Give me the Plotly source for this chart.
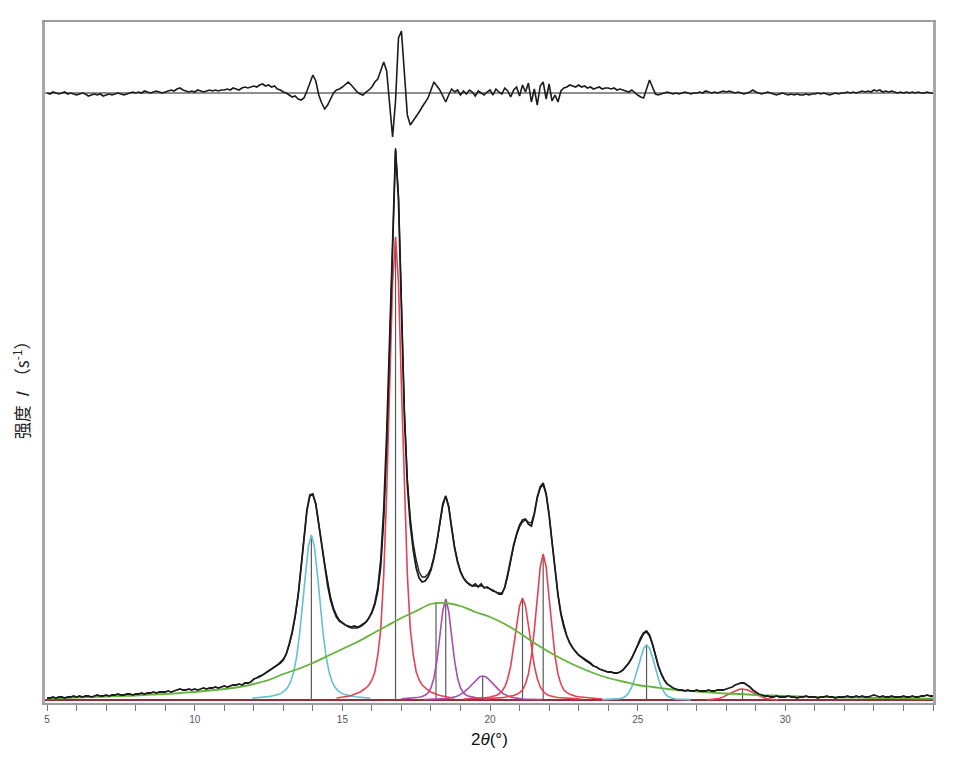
import numpy as np
import plotly.graph_objects as go

# ---------------- data (intensities in arbitrary units) ----------------
STEP = 0.1

obs_start = 5.0
obs_y = [
    2, 2, 3, 2, 3, 3, 2, 3, 3, 4,
    3, 4, 3, 4, 4, 3, 4, 5, 4, 4,
    5, 4, 5, 5, 6, 5, 5, 6, 6, 5,
    6, 6, 7, 6, 7, 7, 8, 7, 8, 8,
    8, 9, 8, 9, 10, 11, 10, 10, 11, 10,
    11, 10, 11, 12, 11, 12, 12, 13, 12, 13,
    14, 13, 14, 15, 15, 16, 15, 17, 17, 18,
    21, 22, 24, 25, 27, 29, 31, 33, 35, 37,
    40, 46, 56, 68, 84, 104, 132, 162, 190, 205,
    206, 196, 176, 152, 132, 115, 100, 90, 83, 79,
    77, 75, 74, 73, 74, 73, 74, 76, 78, 82,
    88, 97, 112, 140, 190, 265, 360, 470, 550, 500,
    380, 285, 215, 175, 150, 132, 122, 118, 119, 123,
    130, 142, 158, 178, 196, 204, 193, 172, 152, 138,
    128, 122, 118, 116, 114, 116, 113, 116, 112, 113,
    111, 109, 108, 106, 106, 113, 126, 142, 155, 166,
    175, 180, 181, 176, 174, 186, 203, 213, 217, 206,
    185, 158, 130, 105, 86, 73, 64, 57, 52, 48,
    45, 43, 41, 39, 37, 34, 33, 31, 30, 29,
    28, 28, 27, 27, 28, 30, 33, 37, 42, 48,
    55, 62, 67, 69, 65, 56, 45, 34, 26, 20,
    16, 14, 12, 11, 10, 10, 9, 10, 9, 9,
    10, 9, 9, 9, 10, 9, 9, 10, 10, 10,
    11, 12, 13, 15, 16, 17, 17, 15, 13, 10,
    8, 6, 5, 4, 4, 3, 3, 4, 3, 3,
    3, 4, 3, 3, 2, 3, 3, 4, 3, 3,
    3, 2, 3, 3, 4, 3, 3, 2, 3, 3,
    3, 4, 3, 3, 4, 3, 4, 3, 3, 4,
    5, 4, 3, 4, 3, 3, 4, 3, 3, 3,
    4, 3, 3, 4, 3, 3, 4, 4, 5, 4,
    4,
]

calc_start = 12.0
calc_y = [
    21, 22, 23, 25, 27, 29, 31, 33, 35, 38,
    41, 46, 55, 67, 83, 104, 132, 163, 190, 204,
    205, 196, 178, 156, 136, 118, 103, 92, 85, 80,
    77, 75, 73, 72, 72, 72, 73, 75, 78, 82,
    87, 95, 108, 132, 178, 252, 355, 468, 552, 505,
    385, 290, 222, 182, 157, 140, 128, 123, 123, 126,
    132, 143, 158, 176, 194, 204, 194, 173, 153, 139,
    129, 122, 118, 115, 114, 114, 114, 114, 113, 112,
    111, 110, 108, 107, 107, 112, 124, 140, 154, 165,
    173, 178, 180, 178, 177, 187, 202, 212, 215, 206,
    186, 158, 130, 106, 87, 74, 64, 57, 52, 48,
    45, 42, 40, 38, 36, 34, 33, 31, 30, 29,
    28, 28, 27, 27, 28, 30, 33, 37, 42, 48,
    55, 61, 66, 68, 64, 56, 45, 34, 26, 20,
    16,
]

resid_start = 5.0
resid_y = [
    0, -1, 1, 0, -1, 0, 1, -1, 0, -1,
    -2, -1, 0, -1, -3, -2, -1, -2, -1, -3,
    -2, -1, -2, -1, 0, -1, -2, -1, 0, 1,
    0, 1, 0, 2, 1, 0, 1, 2, 1, 0,
    1, 2, 3, 2, 4, 5, 3, 2, 1, 2,
    1, 3, 2, 1, 2, 3, 2, 3, 2, 3,
    3, 4, 3, 5, 4, 3, 5, 6, 5, 6,
    7, 6, 8, 9, 7, 8, 6, 7, 4, 3,
    1, 0, -2, -4, -3, -6, -7, -5, 2, 10,
    18, 12, -2, -10, -16, -12, -6, 0, 3, 4,
    6, 9, 11, 8, 4, 1, -1, -2, 1, 3,
    6, 11, 14, 22, 31, 22, -15, -44, -8, 55,
    62, 20, -22, -32, -28, -23, -19, -14, -10, -5,
    3, 11, 7, 3, -3, -9, -2, 4, 1, 3,
    -2, 2, -1, 3, 1, -3, 2, 0, -2, 1,
    3, -2, 4, 1, -1, 5, 2, -4, 3, 6,
    -3, 8, 1, 10, -9, 4, -12, 7, 11, -6,
    9, -8, -2, -9, 2, 5, 6, 8, 7, 6,
    8, 6, 7, 5, 6, 4, 5, 6, 4, 5,
    5, 4, 5, 3, 4, 3, 2, 1, 3, 0,
    -2, -4, -5, 4, 13, 6, -1, -2, -1, 0,
    1, 0, -1, 0, -1, 0, 1, 0, -1, 0,
    0, 1, 0, 2, 1, 0, 1, 0, 1, 2,
    1, 2, 1, 0, 1, 0, -1, 0, 1, 3,
    1, 0, -1, 0, 1, 0, -1, -2, -1, 0,
    -1, -2, -1, -2, -1, -2, -2, -1, -2, -1,
    -1, 0, -1, 0, -1, -2, -1, 0, -1, 0,
    0, 1, 0, 1, 0, 1, 2, 1, 2, 1,
    3, 2, 3, 1, 2, 1, 2, 1, 0, 1,
    0, 1, 0, 1, 0, 1, 0, 0, 1, 0,
    0,
]

# broad amorphous halo (sampled every 0.5 deg)
green_start = 5.0
green_step = 0.5
green_y = [
    1.5, 2, 2.5, 3, 3.5, 4, 4.5, 5.5, 6, 7,
    8, 9.5, 11, 13, 16, 20, 26, 31, 37, 44,
    51, 58, 66, 74, 82, 89, 96, 97, 94, 88,
    83, 76, 67, 57, 48, 40, 33, 27, 22, 18.5,
    15, 13, 11, 9.5, 8.5, 7.5, 6.5, 6, 5, 4.5,
    4, 3.5, 3, 3, 2.5, 2.5, 2, 2, 2, 1.5,
    1.5,
]

# crystalline peak components (sampled every 0.1 deg)
cyan1_start = 11.95
cyan1_y = [1.8, 2.0, 2.2, 2.5, 2.8, 3.2, 3.6, 4.2, 4.9, 5.8, 7.1, 9.4, 12.7, 18.5, 28, 43, 66, 95, 127, 154,
           165,
           154, 127, 95, 66, 43, 28, 18.5, 12.7, 9.4, 7.1, 5.8, 4.9, 4.2, 3.6, 3.2, 2.8, 2.5, 2.2, 2.0, 1.8]

red1_start = 14.8
red1_y = [2.0, 2.3, 2.7, 3.2, 3.8, 4.5, 5.5, 6.5, 8, 10, 12, 15, 20, 28, 45, 71, 125, 207, 313, 417,
          463,
          417, 313, 207, 125, 71, 45, 28, 20, 15, 12, 10, 8, 6.5, 5.5, 4.5, 3.8, 3.2, 2.7, 2.3, 2.0]

purple1_start = 17.0
purple1_y = [1.1, 1.3, 1.5, 1.7, 2.0, 2.4, 2.8, 3.6, 4.8, 7, 12, 22, 39, 64, 89,
             101,
             89, 64, 39, 22, 12, 7, 4.8, 3.6, 2.8, 2.4, 2.0, 1.7, 1.5, 1.3, 1.1]

purple2_start = 17.75
purple2_y = [0.5, 0.55, 0.6, 0.7, 0.8, 0.9, 1.0, 1.2, 1.5, 2.0, 2.6, 3.4, 4.6, 6.3, 8.6, 11.3, 14.4, 17.8, 20.9, 23.2,
             24,
             23.2, 20.9, 17.8, 14.4, 11.3, 8.6, 6.3, 4.6, 3.4, 2.6, 2.0, 1.5, 1.2, 1.0, 0.9, 0.8, 0.7, 0.6, 0.55, 0.5]

red2_start = 19.1
red2_y = [1.0, 1.1, 1.2, 1.4, 1.5, 1.7, 2.0, 2.2, 2.5, 3.0, 3.6, 4.6, 6, 8.7, 13, 21.5, 34, 53, 74.5, 94,
          102,
          94, 74.5, 53, 34, 21.5, 13, 8.7, 6, 4.6, 3.6, 3.0, 2.5, 2.2, 2.0, 1.7, 1.5, 1.4, 1.2, 1.1, 1.0]

red3_start = 19.8
red3_y = [1.2, 1.3, 1.5, 1.7, 1.9, 2.1, 2.4, 2.8, 3.2, 3.8, 4.5, 5.7, 7.3, 10, 16, 26, 44, 70, 102, 133,
          146,
          133, 102, 70, 44, 26, 16, 10, 7.3, 5.7, 4.5, 3.8, 3.2, 2.8, 2.4, 2.1, 1.9, 1.7, 1.5, 1.3, 1.2]

cyan2_start = 23.8
cyan2_y = [0.4, 0.5, 0.6, 0.6, 0.8, 0.9, 1.4, 2.3, 4.0, 7.4, 13.1, 21.5, 31.9, 42.9, 51.6,
           55,
           51.6, 42.9, 31.9, 21.5, 13.1, 7.4, 4.0, 2.3, 1.4, 0.9, 0.8, 0.6, 0.6, 0.5, 0.4]

red4_start = 27.35
red4_y = [0.1, 0.3, 0.5, 0.9, 1.5, 2.4, 3.6, 5.1, 6.7, 8.3, 9.7, 10.7,
          11,
          10.7, 9.7, 8.3, 6.7, 5.1, 3.6, 2.4, 1.5, 0.9, 0.5, 0.3, 0.1]

# fitted peak positions and heights (vertical marker lines)
peak_pos = [13.95, 16.8, 18.17, 18.5, 19.75, 21.1, 21.8, 25.3, 28.55]
peak_top = [165, 463, 98, 101, 24, 102, 146, 55, 11]

x_tick_vals = [5, 10, 15, 20, 25, 30]
x_tick_text = ["5", "10", "15", "20", "25", "30"]

# ---------------- styling ----------------
C_CYAN = "#62c2cf"
C_RED = "#e4424f"
C_GREEN = "#63b33d"
C_PURPLE = "#a94db3"
C_BLACK = "#1c1c1c"
C_BASE = "#9a2a3a"


def grid(start, n, step=STEP):
    return np.round(start + step * np.arange(n), 3)


fig = go.Figure()

# vertical peak-position lines
vx, vy = [], []
for p, t in zip(peak_pos, peak_top):
    vx += [p, p, None]
    vy += [0, t, None]
fig.add_trace(go.Scatter(x=vx, y=vy, mode="lines",
                         line=dict(color="#5a5a5a", width=1.2), hoverinfo="skip"))

comps = [
    (cyan1_start, cyan1_y, C_CYAN),
    (cyan2_start, cyan2_y, C_CYAN),
    (purple1_start, purple1_y, C_PURPLE),
    (purple2_start, purple2_y, C_PURPLE),
    (red1_start, red1_y, C_RED),
    (red2_start, red2_y, C_RED),
    (red3_start, red3_y, C_RED),
    (red4_start, red4_y, C_RED),
]
for start, ys, col in comps:
    fig.add_trace(go.Scatter(x=grid(start, len(ys)), y=ys, mode="lines",
                             line=dict(color=col, width=1.6)))

fig.add_trace(go.Scatter(x=grid(green_start, len(green_y), green_step), y=green_y,
                         mode="lines", line=dict(color=C_GREEN, width=1.8, shape="spline")))

fig.add_trace(go.Scatter(x=grid(calc_start, len(calc_y)), y=calc_y, mode="lines",
                         line=dict(color=C_BLACK, width=1.3)))
fig.add_trace(go.Scatter(x=grid(obs_start, len(obs_y)), y=obs_y, mode="lines",
                         line=dict(color=C_BLACK, width=1.8)))

fig.add_trace(go.Scatter(x=grid(resid_start, len(resid_y)), y=resid_y, mode="lines",
                         line=dict(color=C_BLACK, width=1.6), yaxis="y2"))

fig.update_layout(
    width=969, height=762,
    margin=dict(l=37, r=44, t=14, b=67),
    paper_bgcolor="white", plot_bgcolor="white",
    showlegend=False,
    font=dict(family="Liberation Sans, Arial, sans-serif", color="#333"),
    xaxis=dict(
        range=[4.93, 35.0],
        tickmode="array", tickvals=x_tick_vals, ticktext=x_tick_text,
        ticks="outside", ticklen=6, tickwidth=1, tickcolor="#777",
        minor=dict(dtick=1, tick0=5, ticks="outside", ticklen=6, tickwidth=1, tickcolor="#777"),
        tickfont=dict(size=10, color="#555",
                      family="Liberation Sans Narrow, Arial Narrow, Liberation Sans, sans-serif"),
        showline=True, linecolor="#9c9c9c", linewidth=2, mirror=True,
        showgrid=False, zeroline=False,
    ),
    yaxis=dict(
        range=[-3, 678], showticklabels=False, ticks="",
        showline=True, linecolor="#a8a8a8", linewidth=3, mirror=True,
        showgrid=False, zeroline=True, zerolinecolor=C_BASE, zerolinewidth=2,
    ),
    yaxis2=dict(
        range=[-610, 71], overlaying="y", visible=True,
        showticklabels=False, ticks="", showline=False, showgrid=False,
        zeroline=True, zerolinecolor="#8f8f8f", zerolinewidth=1.5,
    ),
    annotations=[
        dict(text="2<i>θ</i>(°)", xref="paper", yref="paper", x=0.5, y=-0.054,
             xanchor="center", yanchor="middle", showarrow=False,
             font=dict(size=17, color="#111", family="Liberation Sans, Arial, sans-serif")),
        dict(text="强度  <i>I</i>  （s<sup>-1</sup>）", xref="paper", yref="paper",
             x=-0.027, y=0.465, textangle=-90, xanchor="center", yanchor="middle",
             showarrow=False,
             font=dict(size=17, color="#222", family="Noto Sans CJK SC, sans-serif")),
    ],
)

fig.write_html("out.html")
